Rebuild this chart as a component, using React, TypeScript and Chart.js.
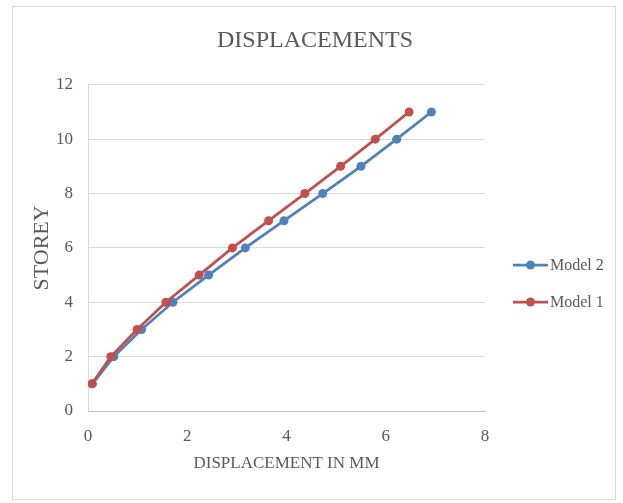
import React, { useEffect, useRef } from "react";
import { Chart, registerables } from "chart.js";

Chart.register(...registerables);

const storeys: number[] = [1, 2, 3, 4, 5, 6, 7, 8, 9, 10, 11];
const model2Disp: number[] = [0.09, 0.52, 1.08, 1.71, 2.43, 3.17, 3.95, 4.73, 5.5, 6.22, 6.92];
const model1Disp: number[] = [0.08, 0.46, 0.99, 1.57, 2.24, 2.91, 3.64, 4.37, 5.09, 5.79, 6.47];
const seriesNames: string[] = ["Model 2", "Model 1"];
const seriesColors: string[] = ["#4F81BD", "#C0504D"];
const xTicks: number[] = [0, 2, 4, 6, 8];
const yTicks: number[] = [0, 2, 4, 6, 8, 10, 12];
const chartTitle = "DISPLACEMENTS";
const xTitle = "DISPLACEMENT IN MM";
const yTitle = "STOREY";

const FONT = "'Liberation Serif', 'Times New Roman', serif";
const TEXT = "#595959";
const GRID = "#d9d9d9";

const frameAndLegend = {
  id: "frameAndLegend",
  beforeDraw(chart: any) {
    const ctx = chart.ctx;
    ctx.save();
    ctx.fillStyle = "#ffffff";
    ctx.fillRect(0, 0, chart.width, chart.height);
    ctx.restore();
  },
  afterDraw(chart: any) {
    const ctx = chart.ctx;
    ctx.save();
    ctx.strokeStyle = GRID;
    ctx.lineWidth = 1;
    ctx.strokeRect(12.5, 6.5, 603, 493);
    const rows = [265, 302];
    chart.data.datasets.forEach((ds: any, i: number) => {
      const y = rows[i];
      ctx.strokeStyle = ds.borderColor;
      ctx.lineWidth = 2.75;
      ctx.beginPath();
      ctx.moveTo(513, y);
      ctx.lineTo(548, y);
      ctx.stroke();
      ctx.fillStyle = ds.borderColor;
      ctx.beginPath();
      ctx.arc(530.5, y, 4.5, 0, Math.PI * 2);
      ctx.fill();
      ctx.fillStyle = TEXT;
      ctx.font = `16px ${FONT}`;
      ctx.textBaseline = "middle";
      ctx.textAlign = "left";
      ctx.fillText(ds.label, 550, y + 1);
    });
    ctx.restore();
  },
};

export default function App() {
  const ref = useRef<HTMLCanvasElement | null>(null);
  useEffect(() => {
    if (!ref.current) return;
    const series = [model2Disp, model1Disp];
    const chart = new Chart(ref.current, {
      type: "line",
      data: {
        datasets: series.map((vals, i) => ({
          label: seriesNames[i],
          data: vals.map((v, j) => ({ x: v, y: storeys[j] })),
          borderColor: seriesColors[i],
          backgroundColor: seriesColors[i],
          pointBackgroundColor: seriesColors[i],
          pointBorderColor: seriesColors[i],
          pointRadius: 4.5,
          pointBorderWidth: 0,
          borderWidth: 2.75,
          tension: 0,
          fill: false,
          order: i === 0 ? 1 : 0,
        })),
      },
      options: {
        responsive: false,
        animation: false,
        devicePixelRatio: 1,
        layout: { padding: { left: 7, right: 0, top: 0, bottom: 0 } },
        plugins: {
          legend: { display: false },
          tooltip: { enabled: false },
          title: {
            display: true,
            text: chartTitle,
            color: TEXT,
            font: { family: FONT, size: 24, weight: "normal" },
            padding: { top: 26, bottom: 30 },
          },
        },
        scales: {
          x: {
            type: "linear",
            position: "bottom",
            min: 0,
            max: 8,
            afterBuildTicks: (s: any) => {
              s.ticks = xTicks.map((v) => ({ value: v }));
            },
            afterFit: (s: any) => {
              s.height = 92;
            },
            grid: { display: false, drawTicks: false },
            border: { display: true, color: "#bfbfbf", width: 1 },
            ticks: {
              padding: 15,
              color: TEXT,
              font: { family: FONT, size: 17 },
            },
            title: {
              display: true,
              text: xTitle,
              color: TEXT,
              font: { family: FONT, size: 17 },
              padding: { top: 0, bottom: 29 },
            },
          },
          y: {
            type: "linear",
            position: "left",
            min: 0,
            max: 12,
            afterBuildTicks: (s: any) => {
              s.ticks = yTicks.map((v) => ({ value: v }));
            },
            afterFit: (s: any) => {
              s.width = 81;
            },
            grid: { color: GRID, lineWidth: 1, drawTicks: false },
            border: { display: true, color: GRID, width: 1 },
            ticks: {
              padding: 15,
              color: TEXT,
              font: { family: FONT, size: 17 },
            },
            title: {
              display: true,
              text: yTitle,
              color: TEXT,
              font: { family: FONT, size: 22 },
              padding: { top: 22, bottom: 0 },
            },
          },
          spacer: {
            type: "linear",
            position: "right",
            display: true,
            afterFit: (s: any) => {
              s.width = 138;
            },
            grid: { display: false, drawTicks: false },
            border: { display: false },
            ticks: { display: false },
          },
        },
      },
      plugins: [frameAndLegend],
    });
    return () => chart.destroy();
  }, []);
  return (
    <div style={{ position: "absolute", left: 0, top: 0, width: 623, height: 503 }}>
      <canvas ref={ref} width={623} height={503} style={{ width: 623, height: 503, display: "block" }} />
    </div>
  );
}
